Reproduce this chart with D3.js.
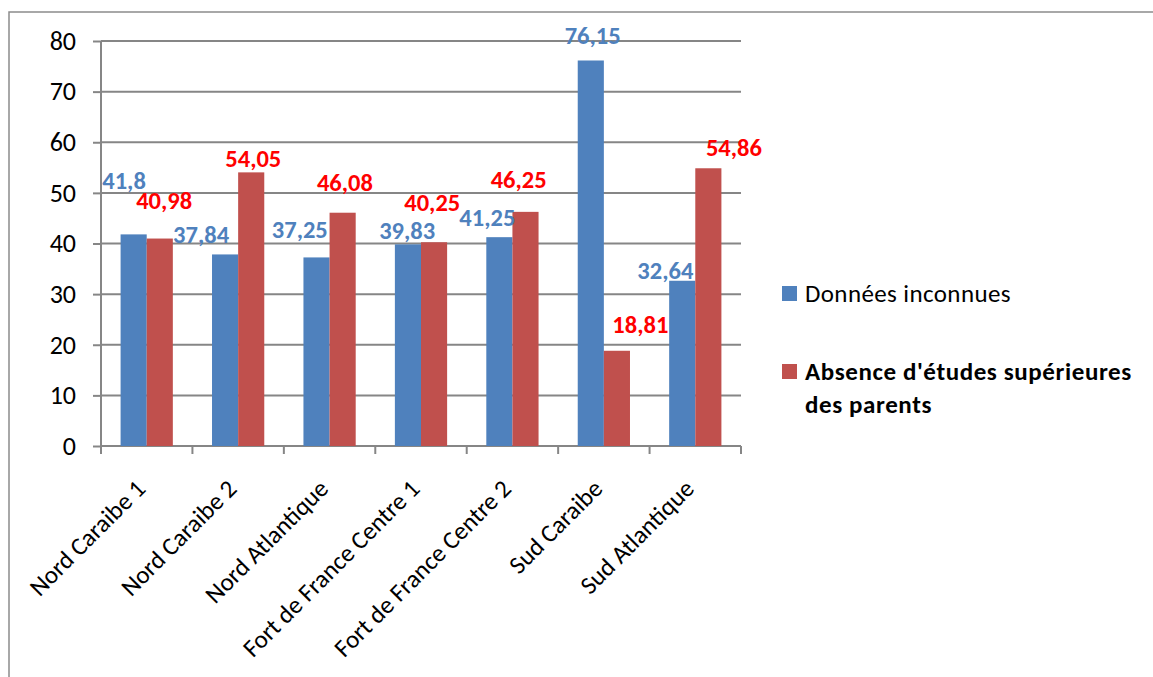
<!DOCTYPE html>
<html>
<head>
<meta charset="utf-8">
<script src="https://cdn.jsdelivr.net/npm/d3@7"></script>
<style>
  html, body { margin: 0; padding: 0; background: #fff; }
  svg { display: block; font-family: Carlito, Calibri, Lato, "Open Sans", sans-serif; }
</style>
</head>
<body>
<svg id="chart" width="1153" height="677"></svg>
<script>
// ---- data ----
const categories = ["Nord Caraibe 1", "Nord Caraibe 2", "Nord Atlantique", "Fort de France Centre 1", "Fort de France Centre 2", "Sud Caraibe", "Sud Atlantique"];
const seriesNames = ["Données inconnues", "Absence d'études supérieures des parents"];
const donneesInconnues = [41.8, 37.84, 37.25, 39.83, 41.25, 76.15, 32.64];
const absenceEtudes = [40.98, 54.05, 46.08, 40.25, 46.25, 18.81, 54.86];
const yTicks = [0, 10, 20, 30, 40, 50, 60, 70, 80];

// ---- layout / style ----
const W = 1153, H = 677;
const plot = { left: 101, right: 741, top: 41, bottom: 446 };
const colors = ["#4F81BD", "#C0504D"];
const labelColors = ["#4F81BD", "#FF0000"];
const gridColor = "#868686";
// manual label offsets (dx, dy from bar top-centre), as in the reference
const labelOffsets = [
  [[-9.6, -54], [-24, -20], [-16.7, -28], [-0.8, -14.4], [-12, -20], [1.9, -25.5], [-16.9, -10]],
  [[4.4, -38.5], [2.1, -14.4], [2.3, -30.2], [-1.8, -39.5], [-6.8, -32], [23.4, -26], [25.6, -21]]
];

const svg = d3.select("#chart");
const series = [donneesInconnues, absenceEtudes];

// outer frame
svg.append("path")
  .attr("d", `M9,${H} L9,12 L${W},12`)
  .attr("fill", "none").attr("stroke", "#8c8c8c").attr("stroke-width", 1.5);

const x = d3.scaleBand().domain(categories).range([plot.left, plot.right]).padding(0);
const groupW = x.bandwidth() / 1.75;
const x1 = d3.scaleBand().domain([0, 1])
  .range([(x.bandwidth() - groupW) / 2, (x.bandwidth() + groupW) / 2]).padding(0);
const y = d3.scaleLinear().domain([0, 80]).range([plot.bottom, plot.top]);

// gridlines + y axis
const yAxis = d3.axisLeft(y).tickValues(yTicks).tickSize(8).tickPadding(17);
const yg = svg.append("g").attr("transform", `translate(${plot.left},0)`).call(yAxis);
yg.select(".domain").remove();
yg.selectAll(".tick line").attr("stroke", gridColor).attr("stroke-width", 2);
yg.selectAll(".tick text").attr("font-size", 26).attr("fill", "#000")
  .attr("font-family", "Carlito, Calibri, Lato, sans-serif");
svg.append("g").selectAll("line").data(yTicks).join("line")
  .attr("x1", plot.left).attr("x2", plot.right)
  .attr("y1", d => y(d)).attr("y2", d => y(d))
  .attr("stroke", gridColor).attr("stroke-width", 2);
svg.append("line")
  .attr("x1", plot.left).attr("x2", plot.left)
  .attr("y1", plot.top).attr("y2", plot.bottom + 8)
  .attr("stroke", gridColor).attr("stroke-width", 2);

// x axis category ticks at band boundaries
const bounds = categories.map(c => x(c)).concat([x.range()[1]]);
svg.append("g").selectAll("line").data(bounds).join("line")
  .attr("x1", d => d).attr("x2", d => d)
  .attr("y1", plot.bottom).attr("y2", plot.bottom + 8)
  .attr("stroke", gridColor).attr("stroke-width", 2);

// bars
series.forEach((vals, s) => {
  svg.append("g").selectAll("rect").data(vals).join("rect")
    .attr("x", (d, i) => x(categories[i]) + x1(s))
    .attr("width", x1.bandwidth())
    .attr("y", d => y(d))
    .attr("height", d => y(0) - y(d))
    .attr("fill", colors[s]);
});

// data labels
const fmt = v => String(v).replace(".", ",");
series.forEach((vals, s) => {
  svg.append("g").selectAll("text").data(vals).join("text")
    .attr("x", (d, i) => x(categories[i]) + x1(s) + x1.bandwidth() / 2 + labelOffsets[s][i][0])
    .attr("y", (d, i) => y(d) + labelOffsets[s][i][1])
    .attr("dy", "0.35em")
    .attr("text-anchor", "middle")
    .attr("font-size", 24.5).attr("font-weight", "bold")
    .attr("fill", labelColors[s])
    .text(d => fmt(d));
});

// category labels rotated
svg.append("g").selectAll("text").data(categories).join("text")
  .attr("transform", c => `translate(${x(c) + x.bandwidth() / 2 - 6},${plot.bottom + 38}) rotate(-45)`)
  .attr("dy", "0.35em")
  .attr("text-anchor", "end")
  .attr("font-size", 25).attr("fill", "#000")
  .text(c => c);

// legend
const lg = svg.append("g");
lg.append("rect").attr("x", 782).attr("y", 286).attr("width", 15).attr("height", 15).attr("fill", colors[0]);
lg.append("text").attr("x", 805).attr("y", 302).attr("font-size", 25).attr("fill", "#000")
  .attr("letter-spacing", 0.4).text(seriesNames[0]);
lg.append("rect").attr("x", 782).attr("y", 364).attr("width", 15).attr("height", 15).attr("fill", colors[1]);
const t2 = lg.append("text").attr("x", 805).attr("y", 380).attr("font-size", 25)
  .attr("font-weight", "bold").attr("fill", "#000").attr("letter-spacing", 0.6);
t2.append("tspan").attr("x", 805).text("Absence d'études supérieures");
t2.append("tspan").attr("x", 805).attr("dy", 33).text("des parents");
</script>
</body>
</html>
